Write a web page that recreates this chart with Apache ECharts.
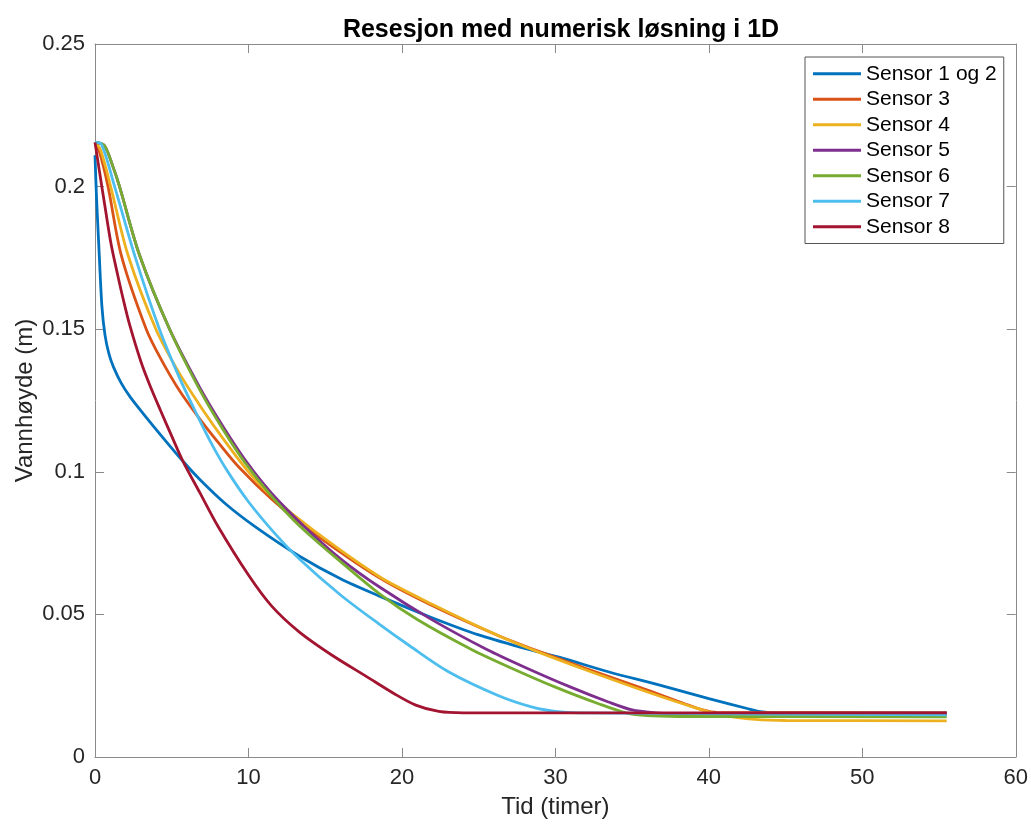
<!DOCTYPE html>
<html>
<head>
<meta charset="utf-8">
<script src="https://cdn.jsdelivr.net/npm/echarts@6/dist/echarts.min.js"></script>
<style>html,body{margin:0;padding:0;background:#fff}#c{width:1031px;height:826px}</style>
</head>
<body>
<div id="c"></div>
<script>
// [time (h), water height (m)]
const sensor12 = [[0,0.211],[0.1,0.196],[0.26,0.178],[0.45,0.158],[0.65,0.148],[0.9,0.1415],[1.2,0.1368],[1.7,0.1312],[2.3,0.1262],[3.1,0.1207],[4.3,0.1128],[5.75,0.1036],[6.83,0.0973],[8.5,0.0888],[10.5,0.0805],[13.3,0.0705],[16,0.0625],[18.5,0.0565],[21.8,0.0492],[25,0.0428],[28,0.0381],[30.3,0.0349],[33.5,0.0298],[36.8,0.0252],[40,0.0205],[42.5,0.0170],[43.5,0.0158],[44.5,0.0155],[55.5,0.0155]];
const sensor3 = [[0,0.2155],[0.3,0.212],[0.85,0.2],[1.71,0.176],[3.34,0.15],[4.3,0.1395],[5.5,0.1285],[6.83,0.1185],[8,0.1105],[9.4,0.1015],[11.5,0.0905],[14,0.0795],[18.54,0.0628],[22,0.053],[26.3,0.0425],[28.7,0.0375],[32,0.031],[36,0.0235],[38.5,0.0185],[39.6,0.0165],[40.5,0.0156],[55.5,0.0155]];
const sensor4 = [[0,0.2155],[0.35,0.213],[1.02,0.2],[2.15,0.176],[3.97,0.15],[5.5,0.1345],[7.03,0.1217],[8.5,0.1105],[10,0.1],[11.5,0.0915],[14.2,0.0796],[18.54,0.0632],[22,0.0535],[26.3,0.0425],[28.7,0.0372],[32,0.0305],[36,0.0228],[39.4,0.0168],[41,0.0145],[43,0.0132],[45,0.0128],[55.5,0.0127]];
const sensor5 = [[0,0.2155],[0.6,0.2145],[1.17,0.207],[1.6,0.2],[2.9,0.176],[4.86,0.15],[6.83,0.1295],[8.3,0.1162],[9.8,0.104],[11.5,0.0925],[13.7,0.0805],[16,0.0695],[18.54,0.0596],[22,0.048],[25.5,0.0378],[28,0.0315],[31,0.0245],[33.5,0.0192],[35,0.0165],[36.5,0.0155],[38,0.0151],[55.5,0.015]];
const sensor6 = [[0,0.2155],[0.6,0.2145],[1.17,0.207],[1.6,0.2],[2.9,0.176],[4.86,0.15],[6.83,0.1287],[8.3,0.1152],[9.8,0.103],[11.5,0.0915],[13.3,0.0812],[16,0.0685],[18.54,0.0572],[21,0.0482],[24.5,0.0378],[27,0.0315],[30,0.0245],[32.9,0.0185],[34.6,0.0155],[36,0.0145],[38,0.0142],[55.5,0.0141]];
const sensor7 = [[0,0.2155],[0.4,0.215],[1.28,0.2],[2.58,0.176],[4.2,0.15],[5.5,0.133],[6.6,0.1205],[7.6,0.1098],[8.6,0.1005],[10,0.0895],[11.7,0.0785],[13.3,0.0695],[16,0.0568],[18.54,0.0465],[20.5,0.039],[23,0.030],[26.3,0.0215],[28.5,0.0175],[30,0.016],[31.5,0.0155],[55.5,0.0148]];
const sensor8 = [[0,0.2155],[0.3,0.205],[0.65,0.193],[1.06,0.1795],[1.5,0.1685],[1.84,0.1605],[2.26,0.1515],[3.0,0.1385],[3.6,0.130],[4.27,0.1215],[5.0,0.1125],[5.75,0.1035],[6.83,0.0927],[8,0.081],[10,0.0638],[11.5,0.053],[13.3,0.0439],[15.5,0.0355],[17.7,0.0282],[19.5,0.0222],[20.9,0.0182],[22.4,0.016],[24,0.0155],[55.5,0.0155]];

const seriesNames = ['Sensor 1 og 2','Sensor 3','Sensor 4','Sensor 5','Sensor 6','Sensor 7','Sensor 8'];
const seriesData = [sensor12, sensor3, sensor4, sensor5, sensor6, sensor7, sensor8];
const colors = ['#0072BD','#D95319','#EDB120','#7E2F8E','#77AC30','#4DBEEE','#A2142F'];
const xTicks = [0,10,20,30,40,50,60];
const yTicks = [0,0.05,0.1,0.15,0.2,0.25];

const font = '"Liberation Sans", Arial, Helvetica, sans-serif';
const axisColor = '#8a8a8a';
const textColor = '#262626';

const chart = echarts.init(document.getElementById('c'), null, {renderer:'canvas'});
const tickCommon = {show:true, inside:true, length:9, lineStyle:{color:axisColor, width:1}};
const lineCommon = {show:true, onZero:false, lineStyle:{color:axisColor, width:1}};
chart.setOption({
  backgroundColor:'#fff',
  animation:false,
  color: colors,
  title:{text:'Resesjon med numerisk løsning i 1D', left:556, textAlign:'center', top:13,
    textStyle:{fontFamily:font, fontSize:25, fontWeight:'bold', color:'#000'}},
  legend:{
    orient:'vertical', left:805, top:57,
    data: seriesNames,
    icon:'rect', itemWidth:48, itemHeight:3, itemGap:0,
    padding:[4,7,4,8],
    borderColor:'#555', borderWidth:1, backgroundColor:'#fff',
    textStyle:{fontFamily:font, fontSize:21, color:'#000', lineHeight:25.5}
  },
  grid:{left:95, right:14, top:44, bottom:69, containLabel:false},
  xAxis:[{
    type:'value', min:xTicks[0], max:xTicks[xTicks.length-1], interval:10,
    name:'Tid (timer)', nameLocation:'middle', nameGap:38, nameMoveOverlap:false,
    nameTextStyle:{fontFamily:font, fontSize:24, color:textColor},
    axisLine:lineCommon,
    axisTick:tickCommon,
    axisLabel:{fontFamily:font, fontSize:22, color:textColor, margin:10},
    splitLine:{show:false}
  },{
    type:'value', position:'top', min:xTicks[0], max:xTicks[xTicks.length-1], interval:10,
    axisLine:lineCommon,
    axisTick:tickCommon, axisLabel:{show:false}, splitLine:{show:false}
  }],
  yAxis:[{
    type:'value', min:yTicks[0], max:yTicks[yTicks.length-1], interval:0.05,
    name:'Vannhøyde (m)', nameLocation:'middle', nameGap:58, nameMoveOverlap:false,
    nameTextStyle:{fontFamily:font, fontSize:24, color:textColor},
    axisLine:lineCommon,
    axisTick:tickCommon,
    axisLabel:{fontFamily:font, fontSize:22, color:textColor, margin:10,
      formatter:function(v){return String(Math.round(v*100)/100);}},
    splitLine:{show:false}
  },{
    type:'value', position:'right', min:yTicks[0], max:yTicks[yTicks.length-1], interval:0.05,
    axisLine:lineCommon,
    axisTick:tickCommon, axisLabel:{show:false}, splitLine:{show:false}
  }],
  series: seriesData.map((d,i)=>({
    name: seriesNames[i], type:'line', data:d, showSymbol:false, symbol:'none',
    smooth:0.3,
    lineStyle:{width:2.8, color:colors[i]}, itemStyle:{color:colors[i]},
    xAxisIndex:0, yAxisIndex:0, z:2+i
  }))
});
</script>
</body>
</html>
